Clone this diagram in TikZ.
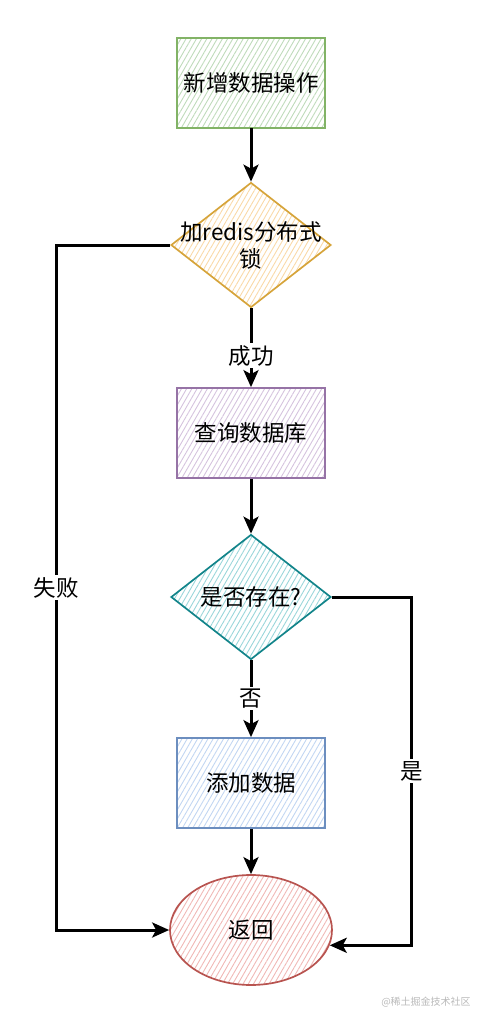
\documentclass[tikz,border=0pt]{standalone}
\usepackage{fontspec}
\setmainfont{Noto Sans CJK SC}
\usetikzlibrary{shapes.geometric,arrows.meta,patterns.meta}

\definecolor{grnline}{HTML}{82B366}
\definecolor{grnfill}{HTML}{BFDBBB}
\definecolor{ylwline}{HTML}{D6A43A}
\definecolor{ylwfill}{HTML}{F9D9A8}
\definecolor{prpline}{HTML}{9673A6}
\definecolor{prpfill}{HTML}{D5C3DE}
\definecolor{tealline}{HTML}{12848A}
\definecolor{tealfill}{HTML}{9AD6DA}
\definecolor{bluline}{HTML}{6C8EBF}
\definecolor{blufill}{HTML}{C2D6F2}
\definecolor{redline}{HTML}{B85450}
\definecolor{redfill}{HTML}{F0B8B6}

\begin{document}
\begin{tikzpicture}[x=1pt,y=1pt,
  font=\fontsize{22.5}{27}\selectfont,
  hatch/.style={pattern={Lines[angle=60,distance=4.5pt,line width=0.9pt]},pattern color=#1},
  procbox/.style={draw, line width=1.7pt, minimum width=148pt, minimum height=90pt, inner sep=0pt},
  decision/.style={diamond, draw, line width=1.7pt, minimum width=160pt, minimum height=125pt, inner sep=0pt},
  flow/.style={line width=3pt, -{Stealth[length=17pt,width=15pt,inset=4pt]}},
  edgetext/.style={fill=white, inner sep=2pt}]
  \useasboundingbox (0,0) rectangle (482,-1018);

  % blocks
  \node[procbox, draw=grnline, hatch=grnfill] (add) at (251,-83) {新增数据操作};
  \node[decision, draw=ylwline, hatch=ylwfill,
    label={[align=center]center:加redis分布式\\锁}] (lock) at (251,-245) {};
  \node[procbox, draw=prpline, hatch=prpfill] (query) at (251,-433) {查询数据库};
  \node[decision, draw=tealline, hatch=tealfill, label=center:是否存在?] (exists) at (251,-597) {};
  \node[procbox, draw=bluline, hatch=blufill] (insert) at (251,-783) {添加数据};
  \node[ellipse, draw=redline, hatch=redfill, line width=1.7pt,
    minimum width=162pt, minimum height=110pt] (ret) at (251,-930) {返回};

  % connectors
  \draw[flow] (add) -- (lock);
  \draw[flow] (lock) -- node[edgetext, pos=0.6]{成功} (query);
  \draw[flow] (query) -- (exists);
  \draw[flow] (exists) -- node[edgetext]{否} (insert);
  \draw[flow] (insert) -- (ret);
  \draw[flow] (lock.west) -- ++(-114,0) |- node[edgetext, pos=0.25]{失败} (ret.west);
  \draw[flow] (exists.east) -- ++(80,0) |- node[edgetext, pos=0.25]{是} (ret.-11);

  \node[text=gray!55, font=\fontsize{10}{12}\selectfont] (mark) at (426,-1002) {@稀土掘金技术社区};
\end{tikzpicture}
\end{document}
